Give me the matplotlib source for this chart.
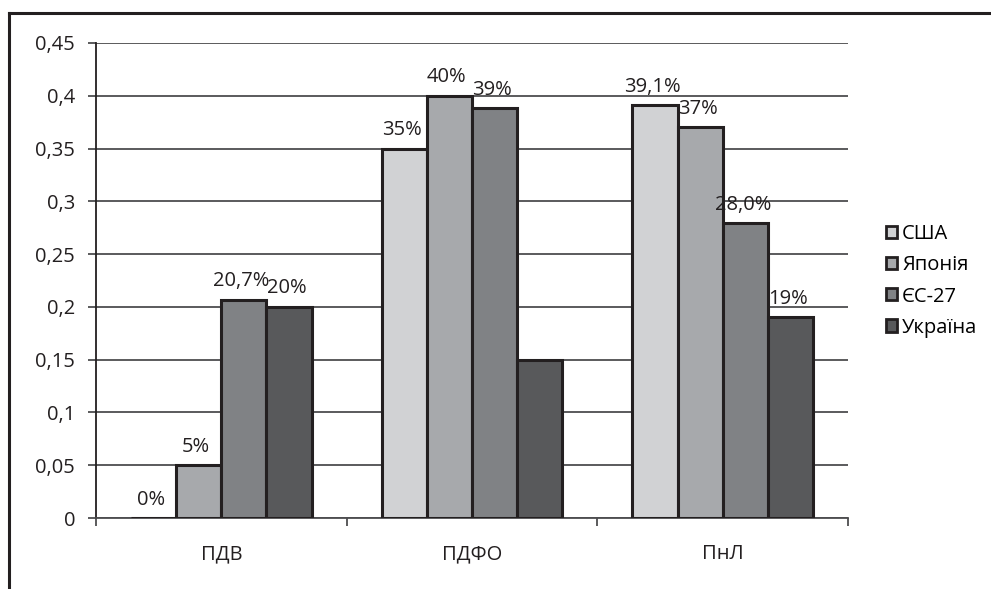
import matplotlib.pyplot as plt
from matplotlib.patches import Patch
from matplotlib.lines import Line2D
import numpy as np

plt.rcParams['font.family'] = ['Open Sans', 'DejaVu Sans']

# categories and series
categories = ['ПДВ', 'ПДФО', 'ПнЛ']
series = ['США', 'Японія', 'ЄС-27', 'Україна']
usa = [0.0, 0.35, 0.391]
japan = [0.05, 0.40, 0.37]
eu27 = [0.207, 0.388, 0.279]
ukraine = [0.20, 0.15, 0.19]
values = [usa, japan, eu27, ukraine]

# bar labels (ПДФО / Україна has none)
usa_labels = ['0%', '35%', '39,1%']
japan_labels = ['5%', '40%', '37%']
eu27_labels = ['20,7%', '39%', '28,0%']
ukraine_labels = ['20%', '', '19%']
labels = [usa_labels, japan_labels, eu27_labels, ukraine_labels]

colors = ['#d1d2d4', '#a7a9ac', '#808285', '#58595b']
edge = '#231f20'
fs = 14.5

fig = plt.figure(figsize=(9.91, 5.89), dpi=100)
ax = fig.add_axes([96/991, 1-518/589, (848-96)/991, (518-43)/589])

x = np.arange(len(categories))
width = 0.18
for i in range(len(series)):
    pos = x + (i - 1.5) * width
    ax.bar(pos, values[i], width, color=colors[i], edgecolor=edge,
           linewidth=2.2, zorder=3)
    for p, v, t in zip(pos, values[i], labels[i]):
        if t:
            ax.text(p - 0.01, v + 0.008, t, ha='center', va='bottom', fontsize=fs,
                    color='#231f20', zorder=4)

ax.set_ylim(0, 0.45)
ax.set_xlim(-0.5, 2.5)
yt = np.arange(0, 0.451, 0.05)
ax.set_yticks(yt)
ax.set_yticklabels([('%g' % round(v, 2)).replace('.', ',') for v in yt])
ax.yaxis.grid(True, color='#4d4d4f', linewidth=1.3, zorder=0)

ax.set_xticks([-0.5, 0.5, 1.5, 2.5])
ax.set_xticklabels([])
ax.set_xticks(x, minor=True)
ax.set_xticklabels(categories, minor=True)
ax.tick_params(axis='x', which='minor', length=0, pad=19, labelsize=fs,
               colors='#231f20')
ax.tick_params(axis='x', which='major', length=6, width=1.3, color='#4d4d4f')
ax.tick_params(axis='y', length=6, width=1.3, color='#4d4d4f', pad=9,
               labelsize=fs, labelcolor='#231f20')

for s in ['top', 'right']:
    ax.spines[s].set_visible(False)
ax.spines['left'].set_color('#231f20')
ax.spines['left'].set_linewidth(1.3)
ax.spines['bottom'].set_color('#4d4d4f')
ax.spines['bottom'].set_linewidth(1.3)

handles = [Patch(facecolor=c, edgecolor=edge, linewidth=2.0) for c in colors]
fig.legend(handles, series, loc='center left', bbox_to_anchor=(878/991, 1-281/589),
           frameon=False, fontsize=fs, handlelength=0.55, handleheight=0.55,
           handletextpad=0.25, labelspacing=0.55, borderaxespad=0)

# outer frame (top and left edges)
fig.add_artist(Line2D([9/991, 1], [1-13/589, 1-13/589], color=edge, linewidth=2.2))
fig.add_artist(Line2D([9/991, 9/991], [0, 1-13/589], color=edge, linewidth=2.2))

fig.savefig('out.png', dpi=100)
